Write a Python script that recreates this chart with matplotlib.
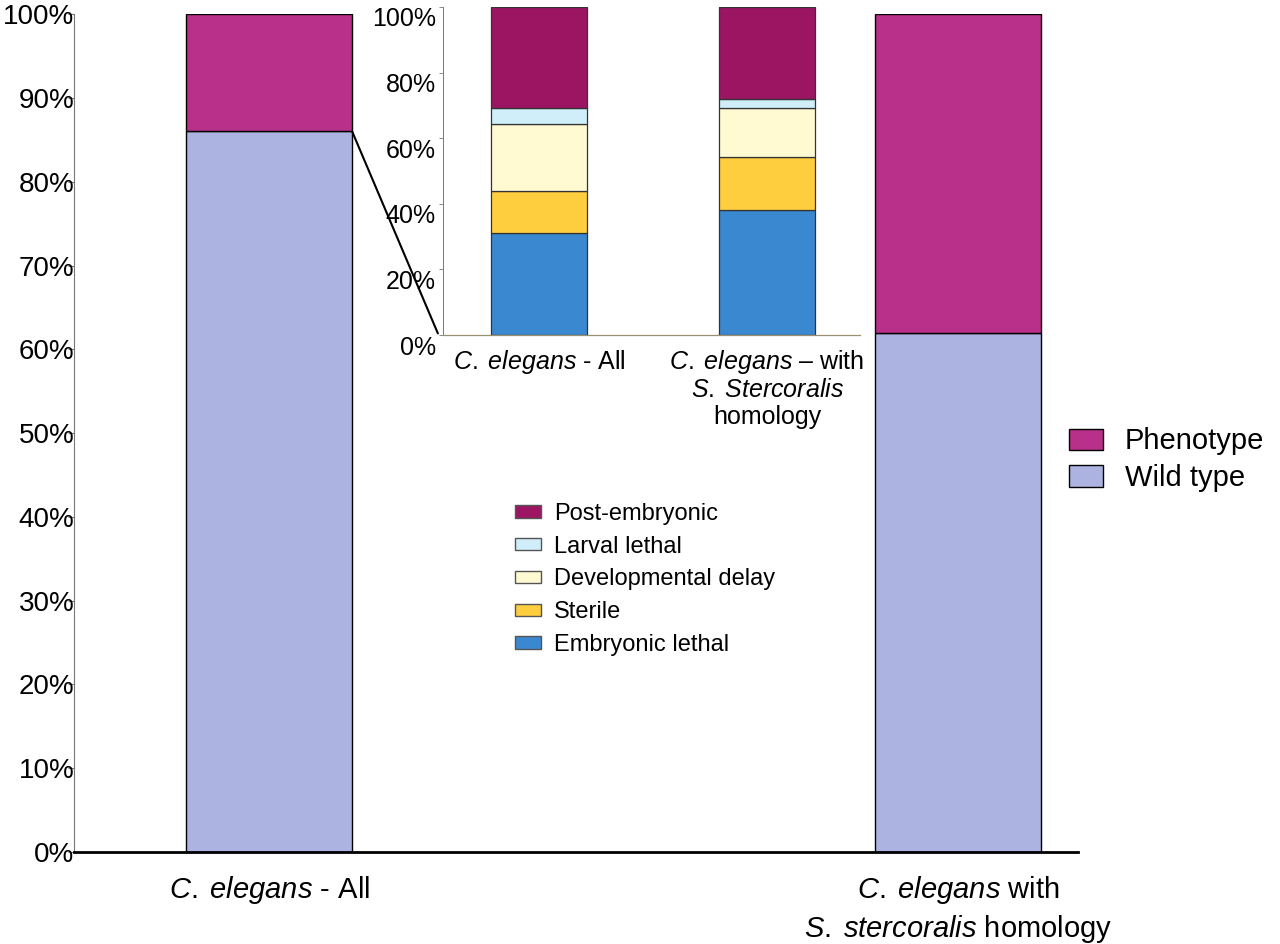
import matplotlib
matplotlib.use("Agg")
import matplotlib.pyplot as plt
from matplotlib.patches import ConnectionPatch, Patch
from matplotlib.transforms import ScaledTranslation

plt.rcParams['font.family'] = ['Liberation Sans', 'DejaVu Sans']
plt.rcParams['mathtext.fontset'] = 'custom'
plt.rcParams['mathtext.rm'] = 'Liberation Sans'
plt.rcParams['mathtext.it'] = 'Liberation Sans:italic'

# main chart: wild type vs phenotype (%)
main_groups = [r'$\it{C.\;elegans}$ - All',
               '$\\it{C.\\;elegans}$ with\n$\\it{S.\\;stercoralis}$ homology']
wild_type = [86.0, 61.9]
phenotype = [14.0, 38.1]

# inset: phenotype breakdown (%)
inset_groups = [r'$\it{C.\;elegans}$ - All',
                '$\\it{C.\\;elegans}$ – with\n$\\it{S.\\;Stercoralis}$\nhomology']
categories = ['Embryonic lethal', 'Sterile', 'Developmental delay',
              'Larval lethal', 'Post-embryonic']
breakdown = {
    'Embryonic lethal': [31.0, 38.1],
    'Sterile': [13.0, 16.1],
    'Developmental delay': [20.2, 14.9],
    'Larval lethal': [4.9, 2.9],
    'Post-embryonic': [30.9, 28.0],
}
cat_colors = ['#3A88CF', '#FFCE3E', '#FFFAD2', '#D0EEFA', '#9C1563']
main_colors = {'Wild type': '#ADB3E0', 'Phenotype': '#B8308A'}

fig = plt.figure(figsize=(12.8, 9.44), dpi=100)

# ---- main axes
ax = fig.add_axes([0.058, 0.0975, 0.784, 0.8875])
xs = [0, 1]
ax.bar(xs, wild_type, width=0.241, color=main_colors['Wild type'],
       edgecolor='black', linewidth=1, label='Wild type')
ax.bar(xs, phenotype, width=0.241, bottom=wild_type,
       color=main_colors['Phenotype'], edgecolor='black', linewidth=1,
       label='Phenotype')
ax.set_xlim(-0.283, 1.174)
ax.set_ylim(0, 100)
ax.set_yticks(range(0, 101, 10))
ax.set_yticklabels([f'{v}%' for v in range(0, 101, 10)], fontsize=20)
ax.tick_params(axis='y', length=4, width=0.8, color='#777777', pad=-4)
ax.set_xticks(xs)
ax.set_xticklabels(main_groups, fontsize=21, linespacing=1.3)
ax.tick_params(axis='x', length=0, pad=16)
for s in ['top', 'right']:
    ax.spines[s].set_visible(False)
ax.spines['left'].set_color('#777777')
ax.spines['left'].set_linewidth(0.8)
ax.spines['bottom'].set_linewidth(2)

h_main = [Patch(facecolor=main_colors['Phenotype'], edgecolor='black'),
          Patch(facecolor=main_colors['Wild type'], edgecolor='black')]
fig.legend(h_main, ['Phenotype', 'Wild type'], loc='upper left',
           bbox_to_anchor=(0.815, 0.575), frameon=False, fontsize=21,
           handlelength=1.15, handleheight=0.75, handletextpad=0.75,
           labelspacing=0.3)

# ---- inset axes
ins = fig.add_axes([0.346, 0.6451, 0.326, 0.3475])
bottom = [0, 0]
for cat, col in zip(categories, cat_colors):
    vals = breakdown[cat]
    ins.bar(xs, vals, width=0.421, bottom=bottom, color=col,
            edgecolor='#333333', linewidth=0.9, label=cat)
    bottom = [b + v for b, v in zip(bottom, vals)]
ins.set_xlim(-0.421, 1.408)
ins.set_ylim(0, 100)
ins.set_yticks(range(0, 101, 20))
ins.set_yticklabels([f'{v}%' for v in range(0, 101, 20)], fontsize=18)
ins.tick_params(axis='y', length=3, width=0.6, color='#777777', pad=2)
off = ScaledTranslation(0, -10 / 100, fig.dpi_scale_trans)
for lab in ins.get_yticklabels():
    lab.set_transform(lab.get_transform() + off)
ins.set_xticks(xs)
ins.set_xticklabels(inset_groups, fontsize=18, linespacing=1.15, va='top')
ins.tick_params(axis='x', length=0, pad=9)
for s in ['top', 'right']:
    ins.spines[s].set_visible(False)
ins.spines['left'].set_color('#777777')
ins.spines['left'].set_linewidth(0.7)
ins.spines['bottom'].set_color('#9a9070')
ins.spines['bottom'].set_linewidth(0.9)
ins.patch.set_alpha(0)

h_ins = [Patch(facecolor=c, edgecolor='#555555') for c in cat_colors][::-1]
fig.legend(h_ins, categories[::-1], loc='upper left',
           bbox_to_anchor=(0.386, 0.49), frameon=False, fontsize=17,
           handlelength=1.1, handleheight=0.45, handletextpad=0.55,
           labelspacing=0.46)

# zoom line from left main bar to inset origin
con = ConnectionPatch(xyA=(0.1205, wild_type[0]), coordsA=ax.transData,
                      xyB=(-0.012, 0.005), coordsB=ins.transAxes,
                      color='black', linewidth=1.5)
fig.add_artist(con)

fig.savefig('out.png', dpi=100)
